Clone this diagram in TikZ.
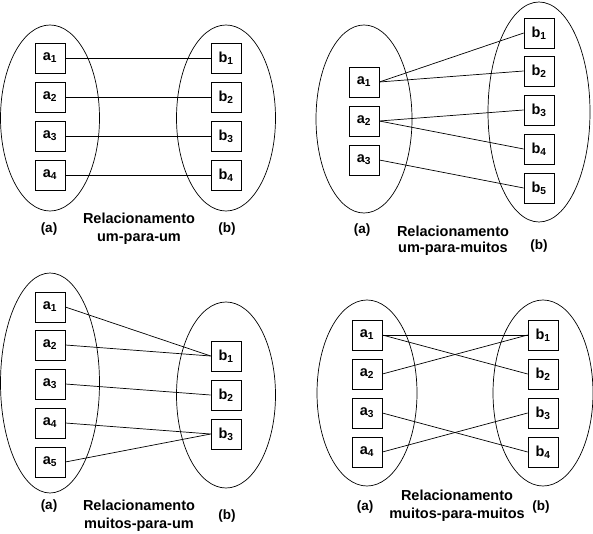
\documentclass[tikz,border=0pt]{standalone}
\usepackage{fontspec}
\setmainfont{Liberation Sans}
\usetikzlibrary{shapes.geometric}

\tikzset{
  conjunto/.style={draw, ellipse, inner sep=0pt, line width=0.7pt},
  elem/.style={draw, minimum size=30pt, inner sep=0pt, line width=0.7pt,
    font=\fontsize{14.5}{16}\selectfont\bfseries},
  liga/.style={line width=0.7pt},
  rotulo/.style={font=\fontsize{13.5}{15}\selectfont\bfseries},
  titulo/.style={align=center, font=\fontsize{14.5}{18}\selectfont\bfseries}
}

\newcommand{\el}[2]{#1\textsubscript{#2}}

\begin{document}
\begin{tikzpicture}[x=1pt, y=-1pt]

  \useasboundingbox (0,0) rectangle (593,534);

  % um-para-um
  \node [conjunto, minimum width=99pt, minimum height=186pt] (ua) at (50,118) {};
  \node [conjunto, minimum width=99pt, minimum height=186pt] (ub) at (226,118) {};

  \node [elem] (ua1) at (50,58)  {\el{a}{1}};
  \node [elem] (ua2) at (50,97)  {\el{a}{2}};
  \node [elem] (ua3) at (50,136) {\el{a}{3}};
  \node [elem] (ua4) at (50,175) {\el{a}{4}};

  \node [elem] (ub1) at (226,58)  {\el{b}{1}};
  \node [elem] (ub2) at (226,97)  {\el{b}{2}};
  \node [elem] (ub3) at (226,136) {\el{b}{3}};
  \node [elem] (ub4) at (226,175) {\el{b}{4}};

  \draw [liga] (ua1.east) -- (ub1.west);
  \draw [liga] (ua2.east) -- (ub2.west);
  \draw [liga] (ua3.east) -- (ub3.west);
  \draw [liga] (ua4.east) -- (ub4.west);

  \node [rotulo] (ula) at (49,229)  {(a)};
  \node [rotulo] (ulb) at (227,229) {(b)};
  \node [titulo] (ut) at (139,229) {Relacionamento\\um-para-um};

  % um-para-muitos
  \node [conjunto, minimum width=96pt, minimum height=188pt] (uma) at (364,119) {};
  \node [conjunto, minimum width=102pt, minimum height=220pt] (umb) at (539,112) {};

  \node [elem] (uma1) at (364,82)  {\el{a}{1}};
  \node [elem] (uma2) at (364,121) {\el{a}{2}};
  \node [elem] (uma3) at (364,160) {\el{a}{3}};

  \node [elem] (umb1) at (539,33)  {\el{b}{1}};
  \node [elem] (umb2) at (539,71)  {\el{b}{2}};
  \node [elem] (umb3) at (539,110) {\el{b}{3}};
  \node [elem] (umb4) at (539,149) {\el{b}{4}};
  \node [elem] (umb5) at (539,188) {\el{b}{5}};

  \draw [liga] (uma1.east) -- (umb1.west);
  \draw [liga] (uma1.east) -- (umb2.west);
  \draw [liga] (uma2.east) -- (umb3.west);
  \draw [liga] (uma2.east) -- (umb4.west);
  \draw [liga] (uma3.east) -- (umb5.west);

  \node [rotulo] (umla) at (362,230) {(a)};
  \node [rotulo] (umlb) at (539,246) {(b)};
  \node [titulo, text depth=0pt] (umt) at (453,239) {Relacionamento\\[-1.5pt]um-para-muitos};

  % muitos-para-um
  \node [conjunto, minimum width=99pt, minimum height=220pt] (mua) at (50,383) {};
  \node [conjunto, minimum width=99pt, minimum height=186pt] (mub) at (226,395) {};

  \node [elem] (mua1) at (50,307) {\el{a}{1}};
  \node [elem] (mua2) at (50,345) {\el{a}{2}};
  \node [elem] (mua3) at (50,384) {\el{a}{3}};
  \node [elem] (mua4) at (50,423) {\el{a}{4}};
  \node [elem] (mua5) at (50,462) {\el{a}{5}};

  \node [elem] (mub1) at (226,356) {\el{b}{1}};
  \node [elem] (mub2) at (226,395) {\el{b}{2}};
  \node [elem] (mub3) at (226,434) {\el{b}{3}};

  \draw [liga] (mua1.east) -- (mub1.west);
  \draw [liga] (mua2.east) -- (mub1.west);
  \draw [liga] (mua3.east) -- (mub2.west);
  \draw [liga] (mua4.east) -- (mub3.west);
  \draw [liga] (mua5.east) -- (mub3.west);

  \node [rotulo] (mula) at (49,506)  {(a)};
  \node [rotulo] (mulb) at (227,516) {(b)};
  \node [titulo] (mut) at (139,516) {Relacionamento\\muitos-para-um};

  % muitos-para-muitos
  \node [conjunto, minimum width=100pt, minimum height=186pt] (mma) at (367,393) {};
  \node [conjunto, minimum width=100pt, minimum height=186pt] (mmb) at (543,393) {};

  \node [elem] (mma1) at (367,335) {\el{a}{1}};
  \node [elem] (mma2) at (367,374) {\el{a}{2}};
  \node [elem] (mma3) at (367,413) {\el{a}{3}};
  \node [elem] (mma4) at (367,452) {\el{a}{4}};

  \node [elem] (mmb1) at (543,335) {\el{b}{1}};
  \node [elem] (mmb2) at (543,374) {\el{b}{2}};
  \node [elem] (mmb3) at (543,413) {\el{b}{3}};
  \node [elem] (mmb4) at (543,452) {\el{b}{4}};

  \draw [liga] (mma1.east) -- (mmb1.west);
  \draw [liga] (mma1.east) -- (mmb2.west);
  \draw [liga] (mma2.east) -- (mmb1.west);
  \draw [liga] (mma3.east) -- (mmb4.west);
  \draw [liga] (mma4.east) -- (mmb3.west);

  \node [rotulo] (mmla) at (365,507) {(a)};
  \node [rotulo] (mmlb) at (541,507) {(b)};
  \node [titulo] (mmt) at (457,506) {Relacionamento\\muitos-para-muitos};

\end{tikzpicture}
\end{document}
